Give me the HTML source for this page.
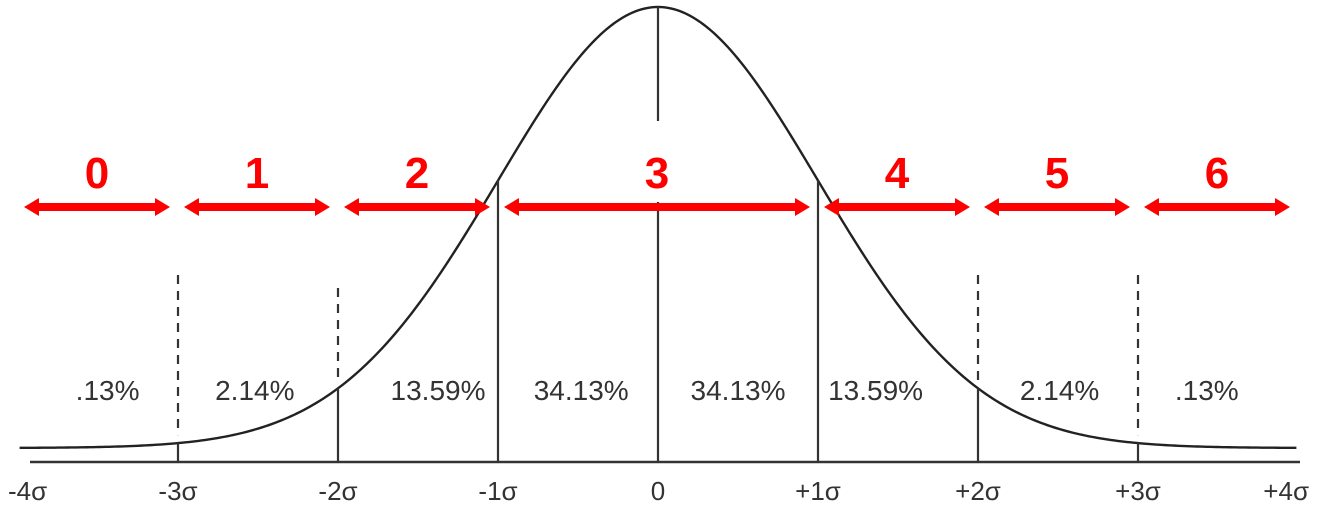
<!DOCTYPE html>
<html><head><meta charset="utf-8"><style>
html,body{margin:0;padding:0;background:#fff;width:1318px;height:509px;overflow:hidden}
svg text{font-family:"Liberation Sans",sans-serif}
</style></head><body>
<svg id="chart" width="1318" height="509" viewBox="0 0 1318 509" xmlns="http://www.w3.org/2000/svg"></svg>
<script>
const tickLabels = ["-4σ","-3σ","-2σ","-1σ","0","+1σ","+2σ","+3σ","+4σ"];
const tickValues = [-4,-3,-2,-1,0,1,2,3,4];
const segmentLabels = ["0","1","2","3","4","5","6"];
const segmentStarts = [-4,-3,-2,-1,1,2,3];
const segmentEnds = [-3,-2,-1,1,2,3,4];
const percentLabels = [".13%","2.14%","13.59%","34.13%","34.13%","13.59%","2.14%",".13%"];
const percentCenters = [-3.44,-2.52,-1.375,-0.48,0.5,1.36,2.51,3.43];

const svg = document.getElementById('chart');
const NS = 'http://www.w3.org/2000/svg';
const X = z => 658 + z * 160;
const BASE = 448, AMP = 441;
const Y = z => BASE - AMP * Math.exp(-z * z / 2);
function mk(tag, attrs, parent) {
  const e = document.createElementNS(NS, tag);
  for (const k in attrs) e.setAttribute(k, attrs[k]);
  (parent || svg).appendChild(e);
  return e;
}
let d = '';
for (let i = 0; i <= 400; i++) {
  const z = -3.99 + 7.98 * i / 400;
  d += (i ? 'L' : 'M') + X(z).toFixed(2) + ',' + Y(z).toFixed(2);
}
const curve = mk('path', {d: d, fill: 'none', stroke: '#222', 'stroke-width': 2.4});


const axis = mk('line', {x1: 30, x2: 1300, y1: 462, y2: 462, stroke: '#333', 'stroke-width': 2.5});


tickValues.forEach(v => {
  if (Math.abs(v) === 4) return;
  const x = X(v);
  if (v === 0) {
    const l1 = mk('line', {x1: x, x2: x, y1: Y(0), y2: 121, stroke: '#333', 'stroke-width': 2.2});
    
    
    const l2 = mk('line', {x1: x, x2: x, y1: 202, y2: 462, stroke: '#333', 'stroke-width': 2.2});
    
    
    return;
  }
  const sl = mk('line', {x1: x, x2: x, y1: Y(v), y2: 462, stroke: '#333', 'stroke-width': 2.2});
  
  
  if (Math.abs(v) >= 2) {
    const top = Math.abs(v) === 2 && v < 0 ? 288 : 275;
    const dl = mk('line', {x1: x, x2: x, y1: top, y2: Y(v) - 8, stroke: '#333', 'stroke-width': 2.2, 'stroke-dasharray': '9,7'});
    
    
  }
});
tickValues.forEach((v, i) => {
  let x = X(v), anchor = 'middle';
  if (i === 0) { x = 8; anchor = 'start'; }
  if (i === tickValues.length - 1) { x = 1309; anchor = 'end'; }
  const t = mk('text', {x: x, y: 500, 'text-anchor': anchor, 'font-size': 26, fill: '#333'});
  t.textContent = tickLabels[i];
  
  
});
percentCenters.forEach((v, i) => {
  const t = mk('text', {x: X(v), y: 400, 'text-anchor': 'middle', 'font-size': 28, fill: '#333'});
  t.textContent = percentLabels[i];
  
  
});
segmentLabels.forEach((lab, i) => {
  const x1 = X(segmentStarts[i]) + 6, x2 = X(segmentEnds[i]) - 8, y = 207;
  const g = mk('g', {});
  
  
  mk('line', {x1: x1 + 10, x2: x2 - 10, y1: y, y2: y, stroke: '#f00', 'stroke-width': 8}, g);
  mk('polygon', {points: `${x1},${y} ${x1+15},${y-9} ${x1+15},${y+9}`, fill: '#f00'}, g);
  mk('polygon', {points: `${x2},${y} ${x2-15},${y-9} ${x2-15},${y+9}`, fill: '#f00'}, g);
  const t = mk('text', {x: (x1 + x2) / 2, y: 188, 'text-anchor': 'middle', 'font-size': 44, 'font-weight': 'bold', fill: '#f00'});
  t.textContent = lab;
  
  
});
</script>
</body></html>
